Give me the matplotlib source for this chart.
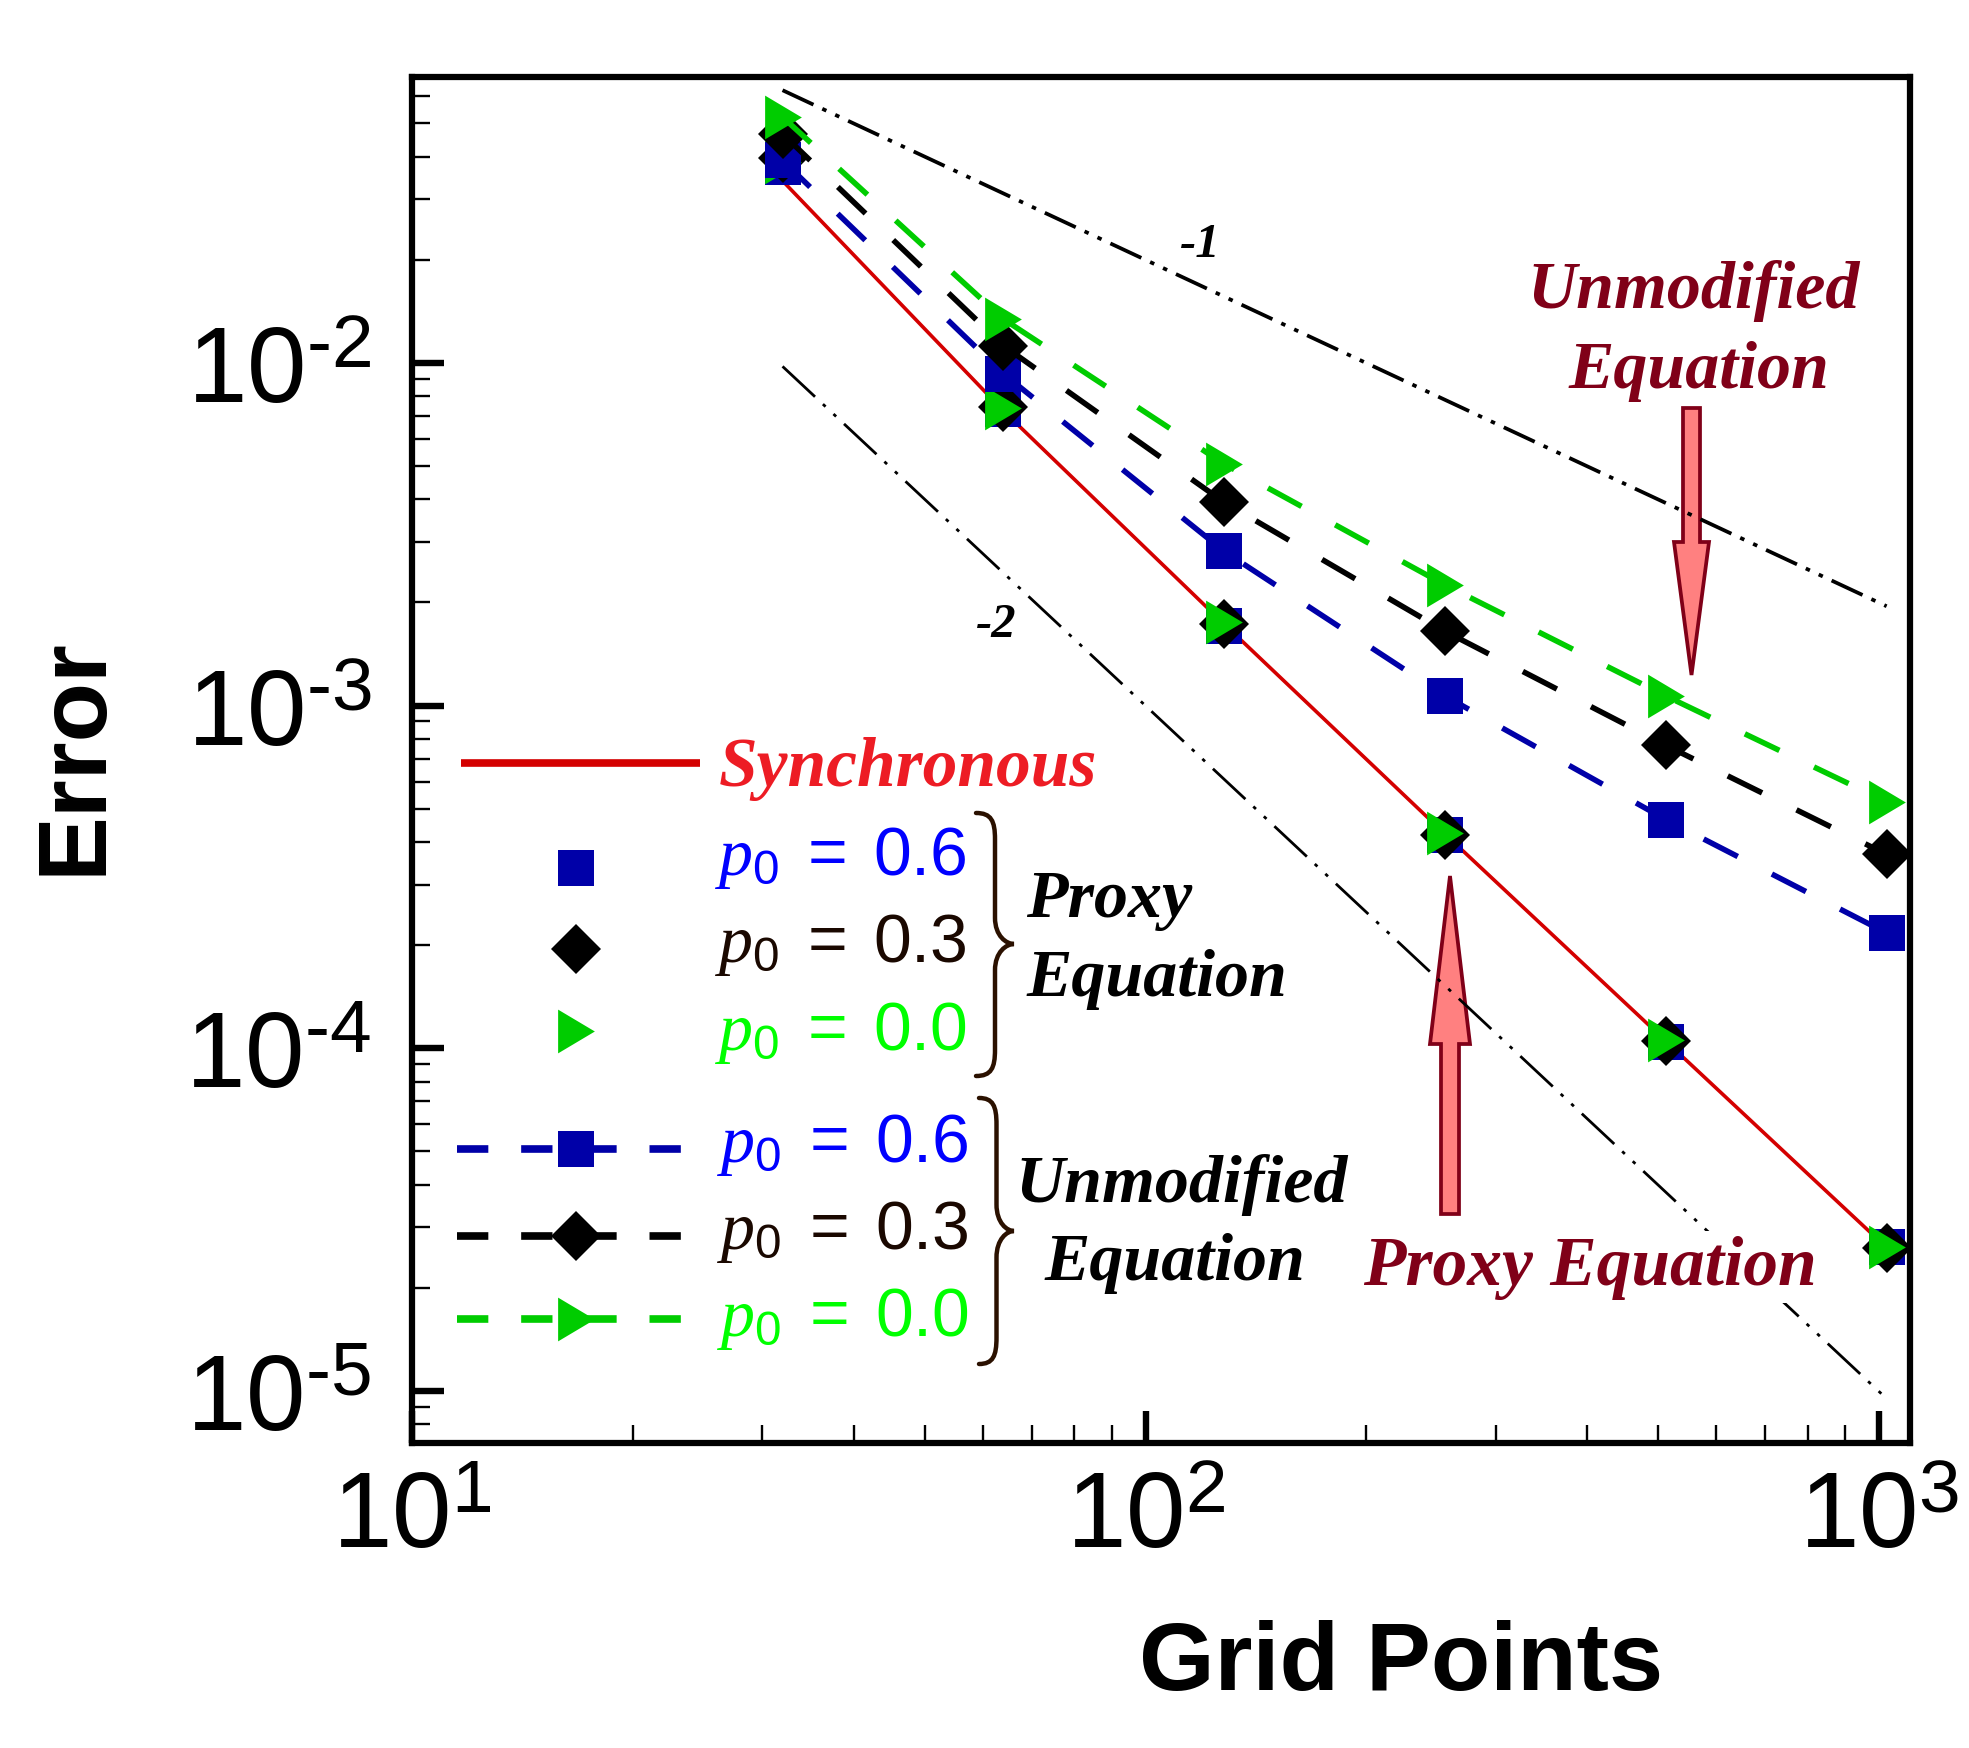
import numpy as np
import matplotlib
matplotlib.use('Agg')
import matplotlib.pyplot as plt
from matplotlib import font_manager, ft2font
from matplotlib.path import Path
from matplotlib.patches import PathPatch, FancyArrow
from matplotlib.ticker import LogLocator, FuncFormatter, NullFormatter

plt.rcParams['mathtext.fontset'] = 'custom'
plt.rcParams['mathtext.rm'] = 'Liberation Sans'
plt.rcParams['mathtext.sf'] = 'Liberation Sans'
plt.rcParams['mathtext.it'] = 'Liberation Serif:italic'
plt.rcParams['mathtext.bf'] = 'Liberation Sans:bold'
plt.rcParams['font.family'] = ['Liberation Sans', 'DejaVu Sans']

# ---- data ----
grid_points = [32, 64, 128, 256, 512, 1024]
err_sync = [0.0340, 7.25e-3, 1.73e-3, 4.22e-4, 1.05e-4, 2.62e-5]
proxy_06 = [0.0373, 7.33e-3, 1.71e-3, 4.19e-4, 1.04e-4, 2.64e-5]
proxy_03 = [0.0395, 7.45e-3, 1.73e-3, 4.19e-4, 1.05e-4, 2.62e-5]
proxy_00 = [0.0385, 7.39e-3, 1.75e-3, 4.25e-4, 1.06e-4, 2.63e-5]
unmod_06 = [0.0390, 9.30e-3, 2.82e-3, 1.067e-3, 4.65e-4, 2.17e-4]
unmod_03 = [0.0466, 1.123e-2, 3.92e-3, 1.648e-3, 7.66e-4, 3.68e-4]
unmod_00 = [0.0522, 1.343e-2, 5.07e-3, 2.25e-3, 1.067e-3, 5.24e-4]
slope_x = [32, 1024]
slope1_y = [0.0625, 0.00195]   # order -1
slope2_y = [0.00977, 9.5e-6]   # order -2
p0_labels = ['0.6', '0.3', '0.0']

W, H = 1969, 1749
BLUE, GREEN, RED = '#0000a8', '#00cc00', '#d40000'
TXT_COLORS = ['#0000ff', '#1a0800', '#00ff00']
DARKRED = '#800018'
tri = Path([(-0.42, -0.5), (0.42, 0.0), (-0.42, 0.5), (-0.42, -0.5)],
           [Path.MOVETO, Path.LINETO, Path.LINETO, Path.CLOSEPOLY])
markers = [('s', 26), ('D', 25), (tri, 31.5)]
colors = [BLUE, 'black', GREEN]
serif = dict(family='Liberation Serif', weight='bold', style='italic')

# short hyphen for the exponents (mathtext turns '-' into a long minus)
cmap = ft2font.FT2Font(font_manager.findfont('Liberation Sans')).get_charmap()
HY = '\u2010' if 0x2010 in cmap else ('\u2011' if 0x2011 in cmap else '-')

fig = plt.figure(figsize=(W / 100, H / 100), dpi=100, facecolor='white')

# overlay in pixel coordinates (drawn under the plot)
ax0 = fig.add_axes([0, 0, 1, 1], zorder=0)
ax0.set_xlim(0, W)
ax0.set_ylim(H, 0)
ax0.axis('off')

ax = fig.add_axes([412 / W, 1 - 1444 / H, 1498 / W, 1366 / H], zorder=1)
ax.patch.set_alpha(0)

ax.plot(slope_x, slope1_y, color='black', lw=2.7,
        ls=(0, (9.1, 2.6, 1.2, 2.6, 1.2, 2.6)), zorder=1)
ax.plot(slope_x, slope2_y, color='black', lw=2.0,
        ls=(0, (16, 3.9, 1.3, 3.9, 1.3, 3.9)), zorder=1)
ax.plot(grid_points, err_sync, color=RED, lw=2.6, zorder=2)

for vals, c, (m, ms) in zip([proxy_06, proxy_03, proxy_00], colors, markers):
    ax.plot(grid_points, vals, ls='none', marker=m, ms=ms, color=c, mew=0, zorder=3)
for vals, c, (m, ms) in zip([unmod_06, unmod_03, unmod_00], colors, markers):
    ax.plot(grid_points, vals, ls=(0, (6.9, 6.9)), lw=4.0, marker=m, ms=ms,
            color=c, mew=0, zorder=4)

ax.set_xscale('log')
ax.set_yscale('log')
ax.set_xlim(10, 1102)
ax.set_ylim(7.05e-6, 0.0683)


def exp_label(v, pos):
    e = int(round(np.log10(v)))
    s = str(abs(e)) if e >= 0 else HY + str(-e)
    return r'$10^{%s}$' % s


fmt = FuncFormatter(exp_label)
for axis in (ax.xaxis, ax.yaxis):
    axis.set_major_locator(LogLocator(base=10))
    axis.set_minor_locator(LogLocator(base=10, subs=np.arange(2, 10)))
    axis.set_major_formatter(fmt)
    axis.set_minor_formatter(NullFormatter())
ax.tick_params(which='both', direction='in', top=False, right=False)
ax.tick_params(which='major', length=23, width=4.6, labelsize=77)
ax.tick_params(which='minor', length=13, width=1.7)
ax.tick_params(axis='y', which='major', pad=29)
ax.tick_params(axis='x', which='major', pad=19)
for sp in ax.spines.values():
    sp.set_linewidth(4.5)

fig.text(75 / W, 1 - 756 / H, 'Error', rotation=90, ha='center', va='center',
         fontsize=70, fontweight='bold')
fig.text(1401 / W, 1 - 1690 / H, 'Grid Points', ha='center', va='baseline',
         fontsize=70, fontweight='bold')


def brace(x0, x1, top, mid, bot, color='#2b1100'):
    xs = x0 + 0.5 * (x1 - x0)
    r = 0.1 * (bot - top)
    verts = [(x0, top),
             (x0 + 0.8 * (xs - x0), top), (xs, top + 0.3 * r), (xs, top + r),
             (xs, mid - r),
             (xs, mid - 0.3 * r), (x1 - 0.4 * (x1 - xs), mid), (x1, mid),
             (x1 - 0.4 * (x1 - xs), mid), (xs, mid + 0.3 * r), (xs, mid + r),
             (xs, bot - r),
             (xs, bot - 0.3 * r), (x0 + 0.8 * (xs - x0), bot), (x0, bot)]
    codes = ([Path.MOVETO] + [Path.CURVE4] * 3 + [Path.LINETO] + [Path.CURVE4] * 6
             + [Path.LINETO] + [Path.CURVE4] * 3)
    ax0.add_patch(PathPatch(Path(verts, codes), fill=False, ec=color, lw=3.2,
                            capstyle='round'))


def p0_text(x, y, val, color):
    ax0.text(x, y, r'$p_0\ =\ %s$' % val, color=color, fontsize=49, va='baseline')


# legend: synchronous
ax0.plot([461, 700], [764, 764], color=RED, lw=5.5, solid_capstyle='butt')
ax0.text(719, 786, 'Synchronous', color='#ed1c24', fontsize=50, va='baseline', **serif)

# legend: proxy equation markers
for i, (y, yb) in enumerate(zip([869, 950, 1032], [875, 962, 1050])):
    m, ms = markers[i]
    ax0.plot(576, y, ls='none', marker=m, ms=ms, color=colors[i], mew=0)
    p0_text(715, yb, p0_labels[i], TXT_COLORS[i])
brace(976, 1014, 814, 945, 1077)
ax0.text(1026, 917, 'Proxy', fontsize=49, va='baseline', color='black', **serif)
ax0.text(1026, 996, 'Equation', fontsize=49, va='baseline', color='black', **serif)

# legend: unmodified equation lines
for i, (y, yb) in enumerate(zip([1150, 1237, 1320], [1162, 1249, 1336])):
    m, ms = markers[i]
    ax0.plot([457, 681], [y, y], color=colors[i], lw=5.5, ls=(0, (4.1, 4.3)))
    ax0.plot(576, y, ls='none', marker=m, ms=ms, color=colors[i], mew=0)
    p0_text(717, yb, p0_labels[i], TXT_COLORS[i])
brace(979, 1014, 1099, 1232, 1365)
ax0.text(1015, 1202, 'Unmodified', fontsize=49, va='baseline', color='black', **serif)
ax0.text(1045, 1280, 'Equation', fontsize=49, va='baseline', color='black', **serif)

# slope labels
ax0.text(1200, 245, '-1', fontsize=35, ha='center', va='center', color='black', **serif)
ax0.text(996, 625, '-2', fontsize=35, ha='center', va='center', color='black', **serif)

# annotations with arrows
ax0.text(1694, 308, 'Unmodified', fontsize=49, ha='center', va='baseline',
         color=DARKRED, **serif)
ax0.text(1699, 388, 'Equation', fontsize=49, ha='center', va='baseline',
         color=DARKRED, **serif)
ax0.add_patch(FancyArrow(1691.5, 409, 0, 267, width=17, head_width=35,
                         head_length=133, length_includes_head=True,
                         fc='#ff8080', ec=DARKRED, lw=2.7))
ax0.add_patch(FancyArrow(1450, 1215, 0, -338, width=18, head_width=40,
                         head_length=168, length_includes_head=True,
                         fc='#ff8080', ec=DARKRED, lw=2.7))
fig.text(1590, 1285, 'Proxy Equation', transform=ax0.transData, fontsize=50,
         ha='center', va='baseline', color=DARKRED,
         bbox=dict(facecolor='white', edgecolor='none', pad=3), **serif)

fig.savefig('out.png', dpi=100)
